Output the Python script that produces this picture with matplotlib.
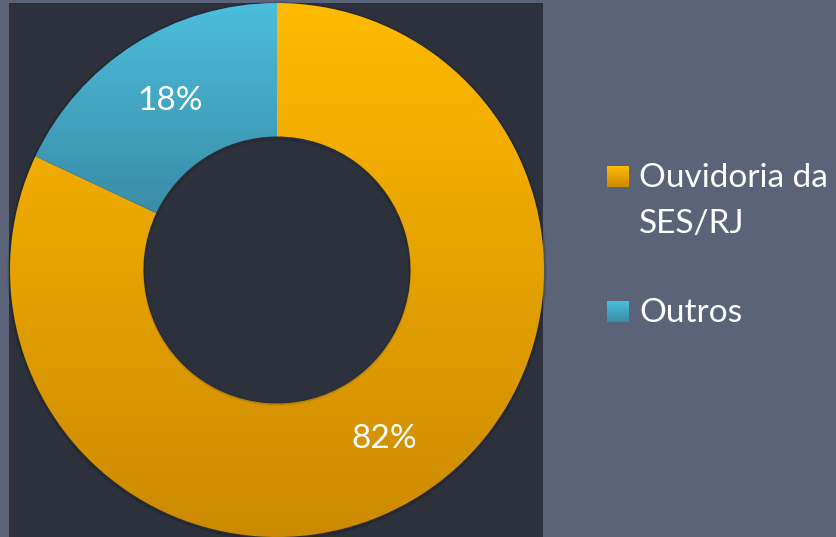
import numpy as np
import matplotlib.pyplot as plt
from matplotlib.patches import Rectangle
from matplotlib.colors import LinearSegmentedColormap

# Data
labels = ["Ouvidoria da\nSES/RJ", "Outros"]
shares = [82, 18]
top_colors = ["#FFBA00", "#4CBEDD"]
bottom_colors = ["#CC8A00", "#3A8CA6"]

bg = "#5B6378"
panel = "#2D313C"

plt.rcParams['font.family'] = ['Lato', 'DejaVu Sans']

fig = plt.figure(figsize=(8.37, 5.37), dpi=100)
fig.patch.set_facecolor(bg)
ax = fig.add_axes([0, 0, 1, 1])

# dark panel behind the chart
ax.add_patch(Rectangle((9, 0), 534, 534, facecolor=panel, edgecolor='none', zorder=0))

cx, cy, R = 277, 267, 267

# soft shadow around the ring (kept tight so it stays inside the panel)
for k in range(3):
    ax.add_patch(plt.Circle((cx, cy - 1), R + 0.5 + k * 0.7, facecolor='none',
                            edgecolor='black', lw=1.2, alpha=0.08, zorder=1))

wedges, texts, autotexts = ax.pie(shares, center=(cx, cy), radius=R, startangle=90,
                                  counterclock=False, autopct='%1.0f%%', pctdistance=0.75,
                                  wedgeprops=dict(width=R * 0.5, edgecolor='none'),
                                  textprops=dict(color='white', fontsize=24),
                                  frame=True)

# vertical gradient fill, clipped to each wedge
for w, c1, c2 in zip(wedges, top_colors, bottom_colors):
    ext = w.get_path().get_extents()
    cmap = LinearSegmentedColormap.from_list('g', [c2, c1])
    grad = np.linspace(0, 1, 256).reshape(-1, 1)
    im = ax.imshow(grad, cmap=cmap, origin='lower', aspect='auto',
                   extent=[ext.x0, ext.x1, ext.y0, ext.y1], zorder=2)
    im.set_clip_path(w)
    w.set_facecolor('none')
    w.set_zorder(3)
for t in autotexts:
    t.set_zorder(5)

# faint shadow at the hole edge
for k in range(3):
    ax.add_patch(plt.Circle((cx, cy - 1.5), R * 0.5 - k * 0.8, facecolor='none',
                            edgecolor='black', lw=1.2, alpha=0.06, zorder=4))

# legend
box_y = [350, 215]
for lab, c1, c2, by in zip(labels, top_colors, bottom_colors, box_y):
    cmap = LinearSegmentedColormap.from_list('g', [c2, c1])
    grad = np.linspace(0, 1, 64).reshape(-1, 1)
    ax.imshow(grad, cmap=cmap, origin='lower', aspect='auto',
              extent=[607, 629, by, by + 21], zorder=3)
    for i, line in enumerate(lab.split("\n")):
        ax.text(639, by - 46 * i, line, color='white', fontsize=24,
                va='baseline', ha='left', zorder=3)

ax.set_xlim(0, 837)
ax.set_ylim(0, 537)
ax.set_aspect('equal')
ax.axis('off')
fig.savefig("out.png", dpi=100, facecolor=bg)
